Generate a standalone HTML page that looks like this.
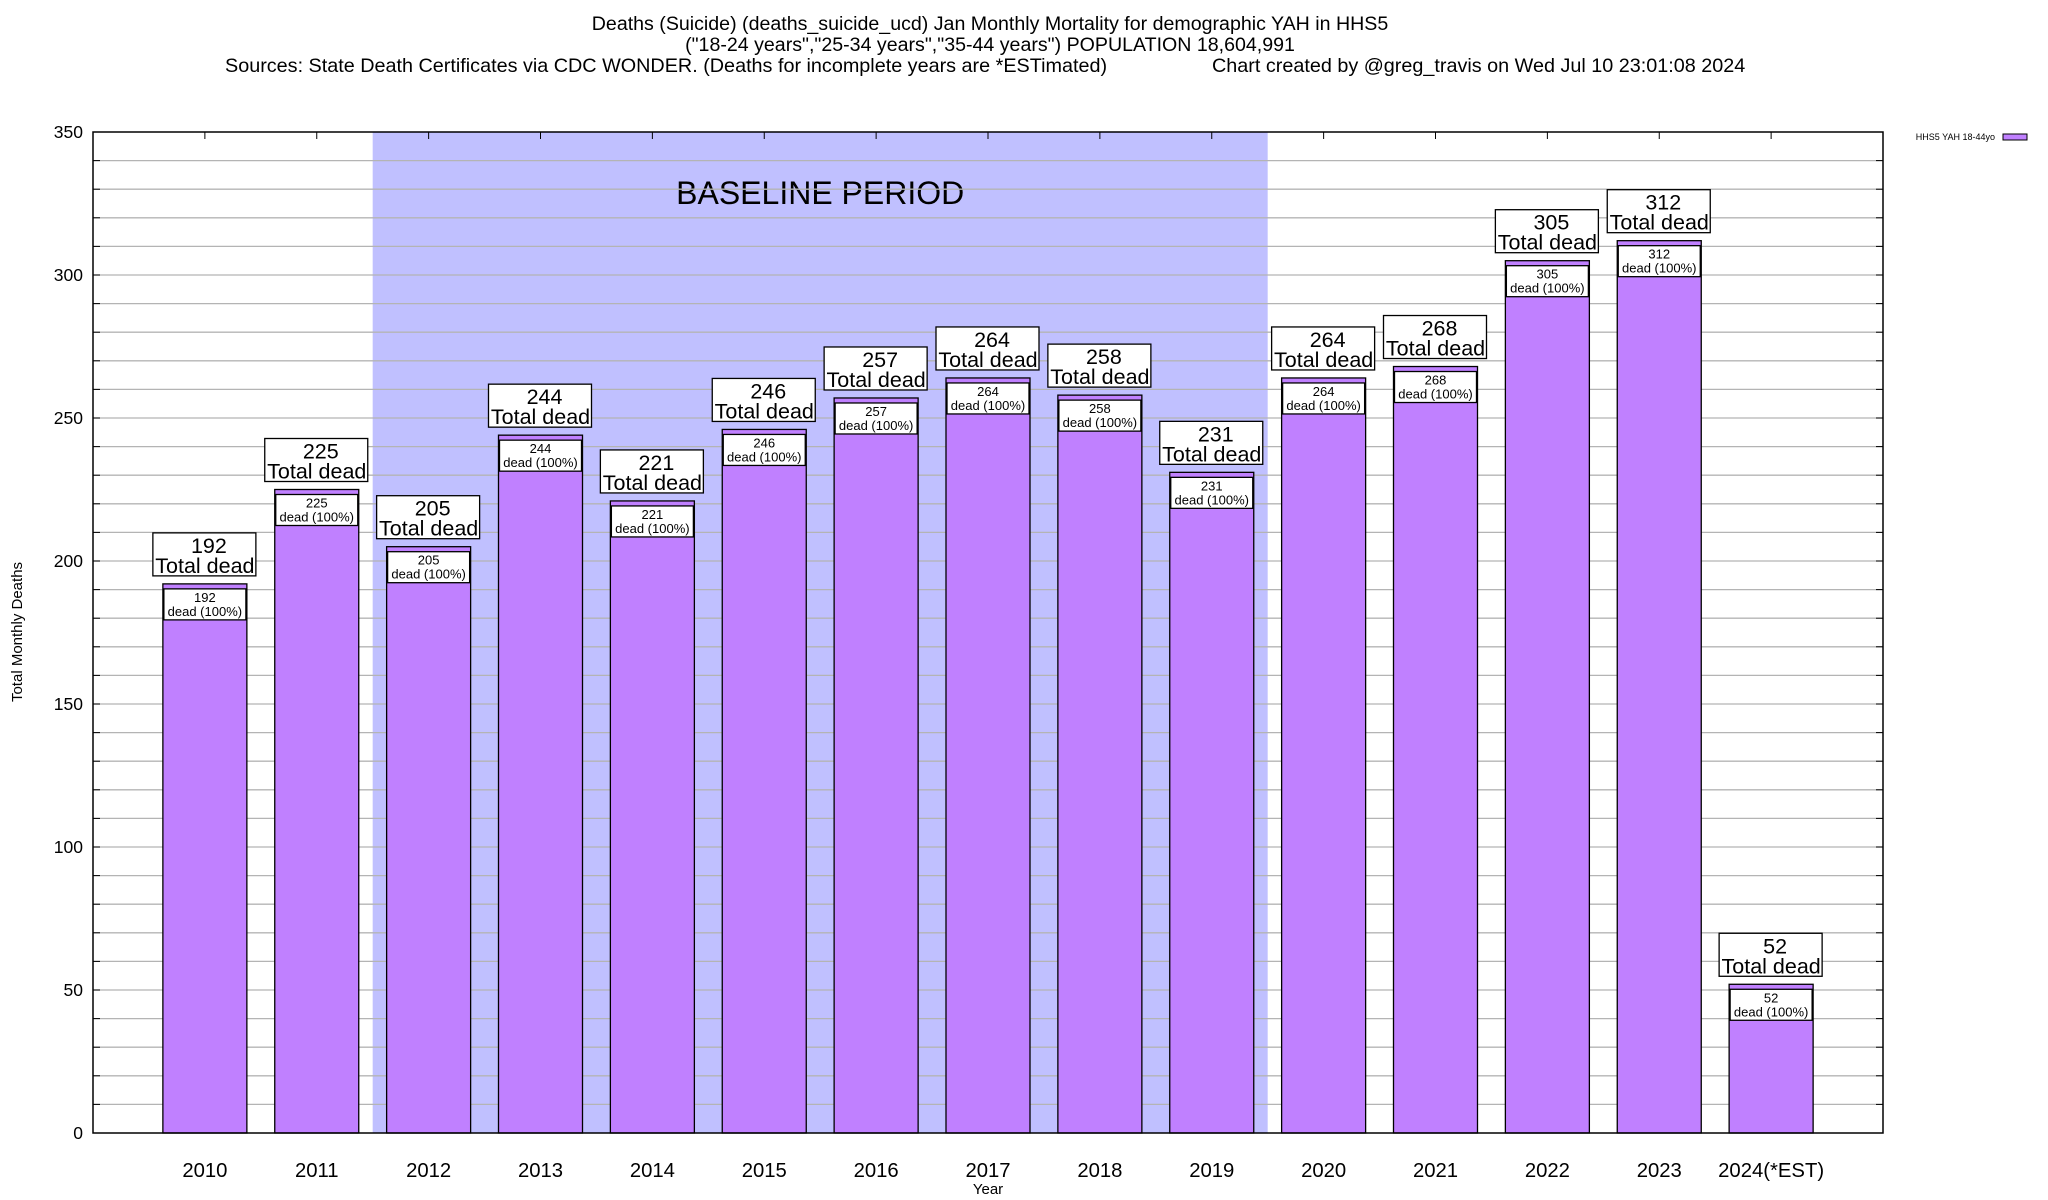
<!DOCTYPE html>
<html><head><meta charset="utf-8">
<style>
html,body{margin:0;padding:0;background:#fff;}
svg{display:block;font-family:"Liberation Sans",Arial,sans-serif;}
</style></head>
<body>
<svg id="chart" width="2048" height="1200" viewBox="0 0 2048 1200" xmlns="http://www.w3.org/2000/svg">
<g font-size="19.6" fill="#000" text-anchor="middle">
<text x="990" y="30">Deaths (Suicide) (deaths_suicide_ucd) Jan Monthly Mortality for demographic YAH in HHS5</text>
<text x="990" y="51">("18-24 years","25-34 years","35-44 years") POPULATION 18,604,991</text>
<text x="225" y="72" text-anchor="start" font-size="19.8">Sources: State Death Certificates via CDC WONDER. (Deaths for incomplete years are *ESTimated)</text>
<text x="1212" y="72" text-anchor="start" font-size="19.8">Chart created by @greg_travis on Wed Jul 10 23:01:08 2024</text>
</g>
<g id="plot"></g>
<text x="0" y="0" font-size="15" text-anchor="middle" transform="translate(22,632) rotate(-90)">Total Monthly Deaths</text>
<text x="988" y="1194" font-size="15" text-anchor="middle">Year</text>
<g>
<text x="1995" y="140" font-size="9" text-anchor="end">HHS5 YAH 18-44yo</text>
<rect x="2003" y="134" width="24" height="6" fill="#c080ff" stroke="#000" stroke-width="1"/>
</g>
</svg>
<script>
const categories = ["2010","2011","2012","2013","2014","2015","2016","2017","2018","2019","2020","2021","2022","2023","2024(*EST)"];
const deaths = [192,225,205,244,221,246,257,264,258,231,264,268,305,312,52];
const yTicks = [0,50,100,150,200,250,300,350];
const baselineStart = 2, baselineEnd = 9;

const NS = "http://www.w3.org/2000/svg";
const L = 93, R = 1883, T = 132, B = 1133;
const yMax = 350;
const unit = (R - L) / 16;
function xs(i){ return L + (i + 1) * unit; }
function ys(v){ return B - v / yMax * (B - T); }
const plot = document.getElementById('plot');
function mk(tag, attrs, parent){
  const e = document.createElementNS(NS, tag);
  for (const k in attrs) e.setAttribute(k, attrs[k]);
  (parent || plot).appendChild(e);
  return e;
}
const shade = mk('rect', {x: xs(baselineStart - 0.5), y: T, width: xs(baselineEnd + 0.5) - xs(baselineStart - 0.5), height: B - T, fill: '#c0c0ff'});


const bl = mk('text', {x: (xs(baselineStart - 0.5) + xs(baselineEnd + 0.5)) / 2, y: 204, 'font-size': 32, 'text-anchor': 'middle'});
bl.textContent = 'BASELINE PERIOD';


for (let v = 10; v < yMax; v += 10) {
  const g = mk('line', {x1: L, x2: R, y1: ys(v), y2: ys(v), stroke: '#b4b4b4', 'stroke-width': 1.3});
  
  
  mk('line', {x1: L, x2: L + 7, y1: ys(v), y2: ys(v), stroke: '#000', 'stroke-width': 1});
  mk('line', {x1: R - 7, x2: R, y1: ys(v), y2: ys(v), stroke: '#000', 'stroke-width': 1});
}
yTicks.forEach(v => {
  const t = mk('text', {x: 83, y: ys(v) + 6, 'font-size': 17.5, 'text-anchor': 'end'});
  t.textContent = v;
  
  
});
categories.forEach((c, i) => {
  const cx = xs(i), v = deaths[i], top = ys(v);
  const bar = mk('rect', {x: cx - 42, y: top, width: 84, height: B - top, fill: '#c080ff', stroke: '#000', 'stroke-width': 1.3});
  
  
  const ib = mk('rect', {x: cx - 41, y: top + 5, width: 82, height: 31, fill: '#fff', stroke: '#000', 'stroke-width': 1.3});
  
  
  const t1 = mk('text', {x: cx, y: top + 18, 'font-size': 13, 'text-anchor': 'middle'});
  t1.textContent = v;
  
  
  const t2 = mk('text', {x: cx, y: top + 32, 'font-size': 13, 'text-anchor': 'middle'});
  t2.textContent = 'dead (100%)';
  
  
  const ob = mk('rect', {x: cx - 52, y: top - 51, width: 103, height: 43, fill: '#fff', stroke: '#000', 'stroke-width': 1.3});
  
  
  const o1 = mk('text', {x: cx + 4, y: top - 31, 'font-size': 21.5, 'text-anchor': 'middle'});
  o1.textContent = v;
  
  
  const o2 = mk('text', {x: cx, y: top - 11, 'font-size': 21.5, 'text-anchor': 'middle'});
  o2.textContent = 'Total dead';
  
  
  const xl = mk('text', {x: cx, y: 1177, 'font-size': 20.3, 'text-anchor': 'middle'});
  xl.textContent = c;
  
  
  mk('line', {x1: cx, x2: cx, y1: T, y2: T + 7, stroke: '#000', 'stroke-width': 1});
});
const frame = mk('rect', {x: L, y: T, width: R - L, height: B - T, fill: 'none', stroke: '#000', 'stroke-width': 1.5});


</script>
</body></html>
